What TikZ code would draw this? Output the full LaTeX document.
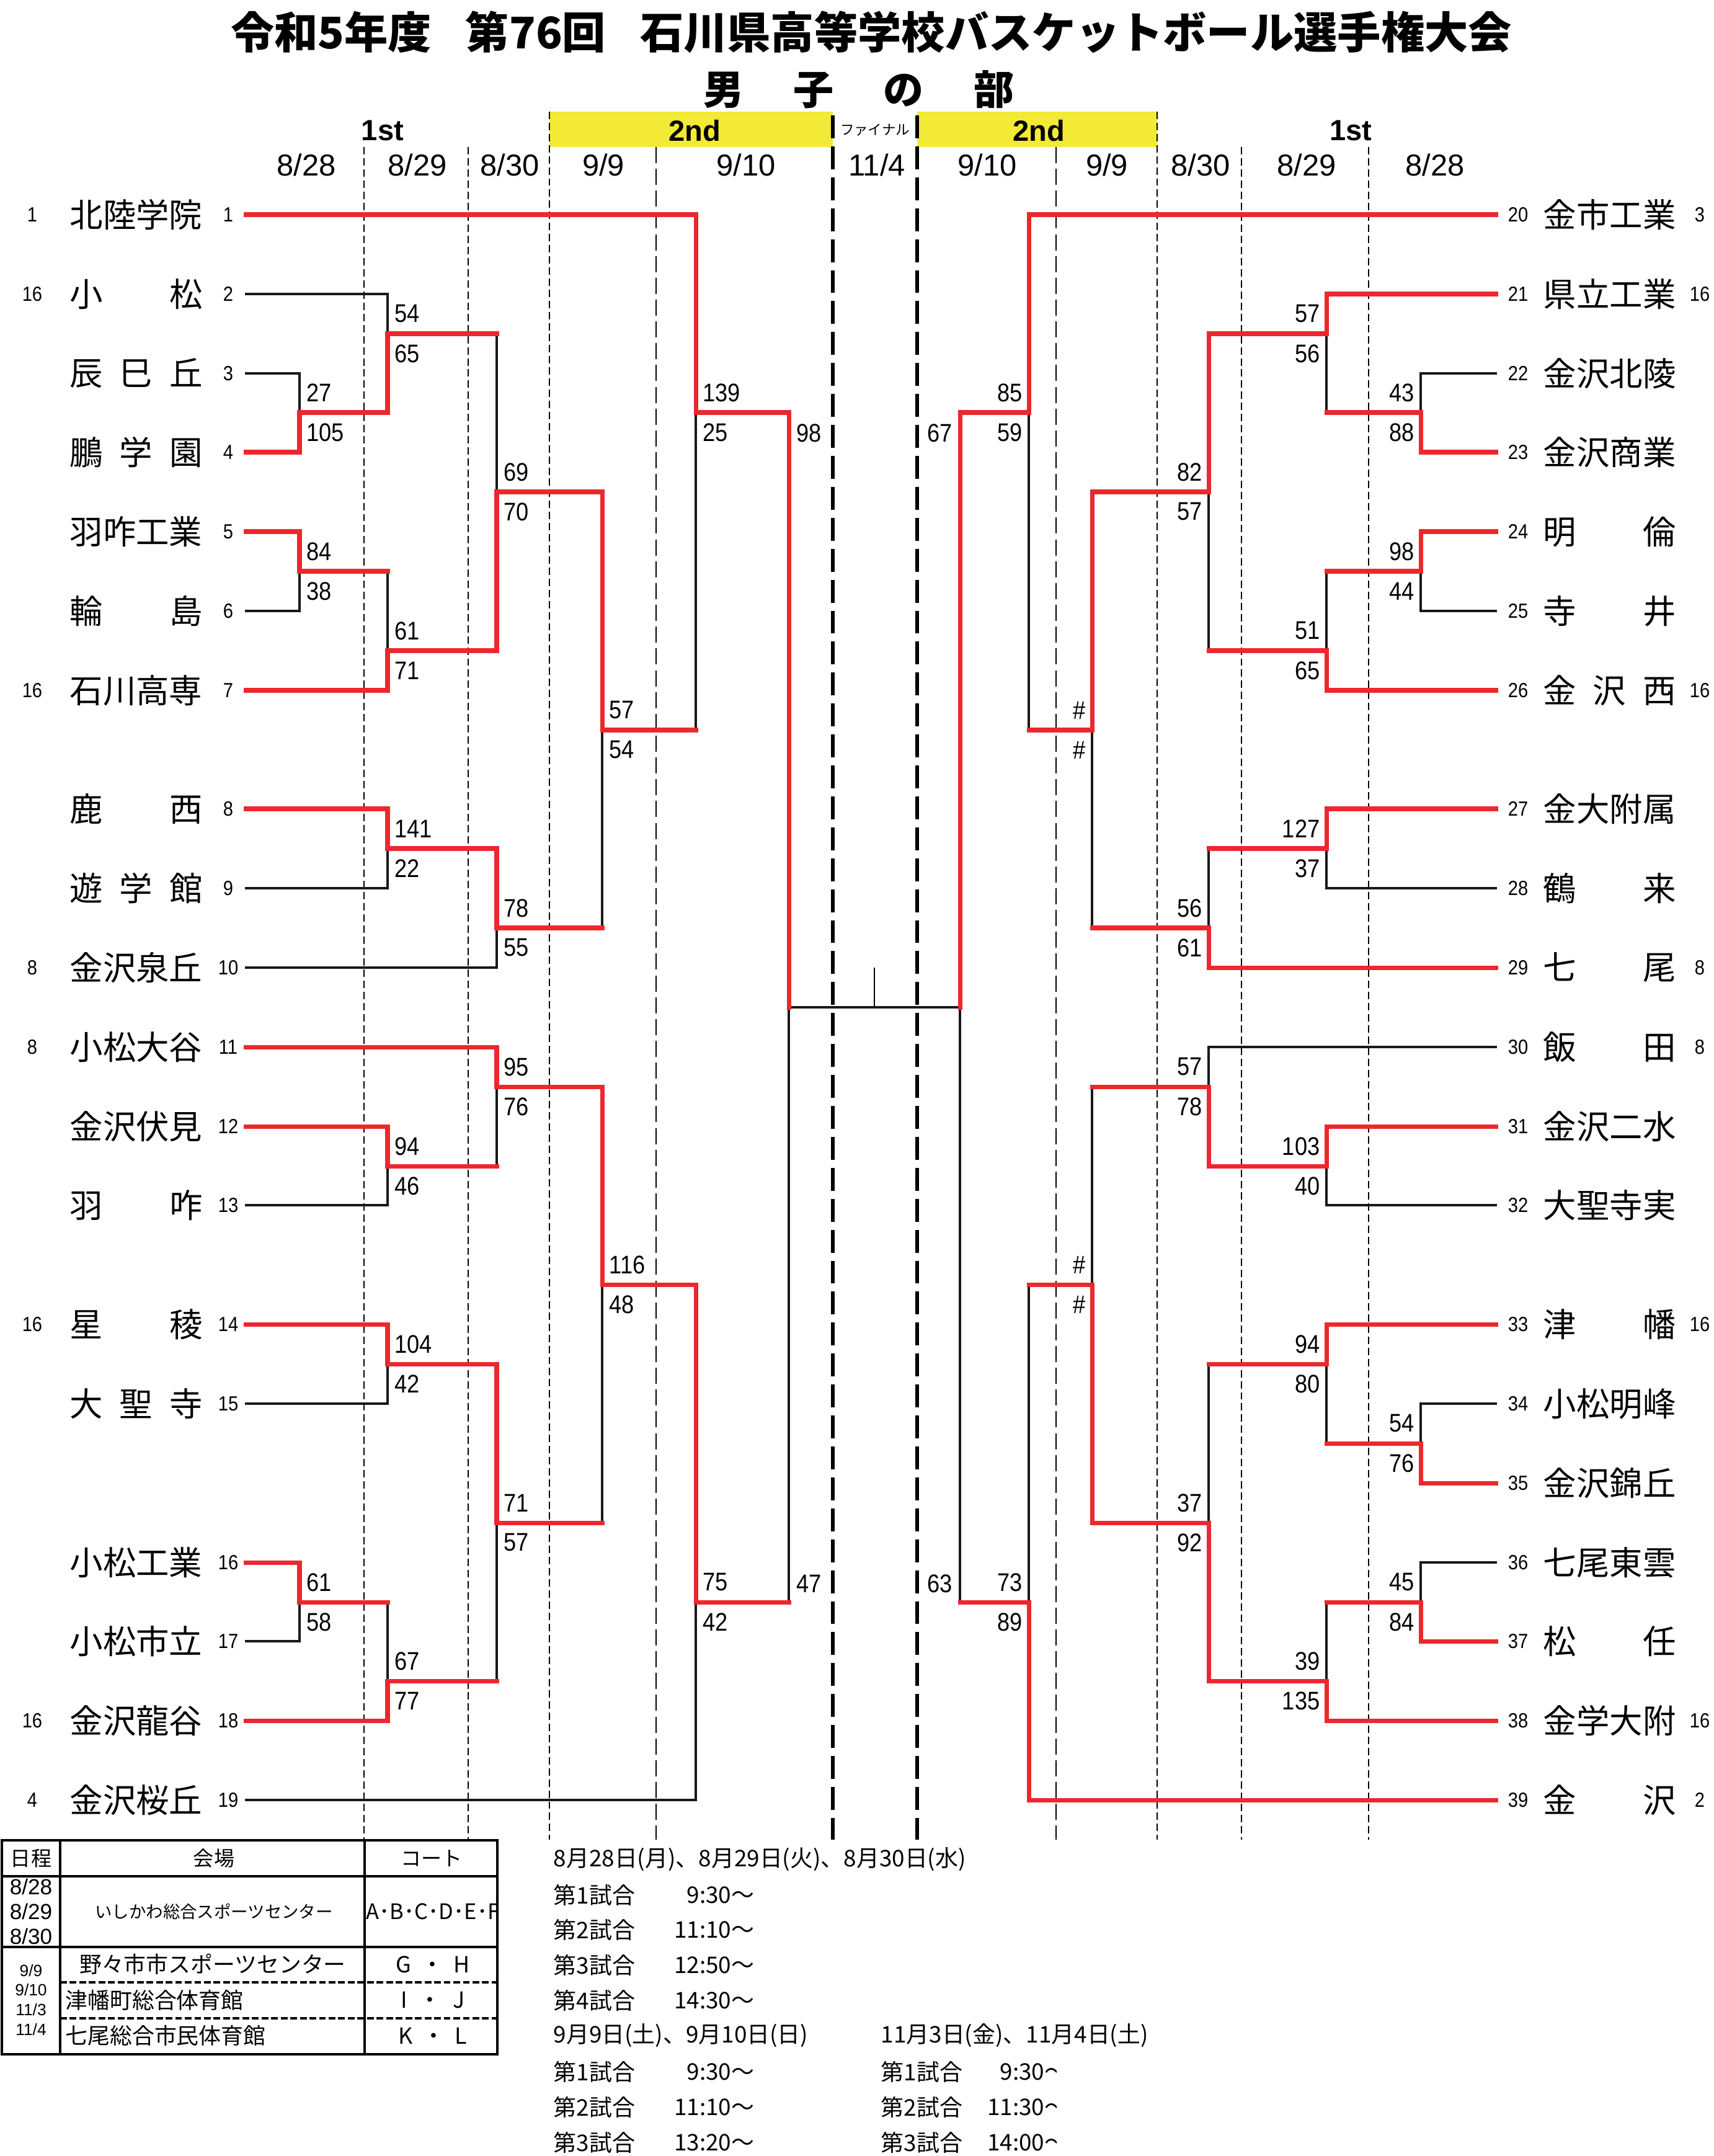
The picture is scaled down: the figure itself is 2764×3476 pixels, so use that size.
\documentclass[tikz,border=0pt]{standalone}
\usepackage{fontspec}
\setmainfont{Noto Sans CJK JP}
\newfontfamily\numf{Liberation Sans}[FakeStretch=0.88]
\newfontfamily\latf{Liberation Sans}
\usetikzlibrary{calc}
\definecolor{wred}{RGB}{236,40,46}
\definecolor{hyel}{RGB}{242,234,52}
\newcommand{\fs}[1]{\fontsize{#1}{#1}\selectfont}
\pgfdeclarelayer{fg}
\pgfsetlayers{main,fg}
\tikzset{
  win/.style={draw=wred, line width=2pt, line cap=rect},
  lose/.style={draw=black!90, line width=1pt, line cap=rect},
  septhin/.style={line width=0.7pt, dash pattern=on 3.4pt off 1.7pt},
  seplong/.style={line width=0.7pt, dash pattern=on 7.4pt off 2.6pt},
  septhick/.style={line width=1.7pt, dash pattern=on 10.5pt off 3.7pt},
  score/.style={inner sep=0pt, font=\numf\fs{11.7pt}},
  tnum/.style={inner sep=0pt, font=\numf\fs{9.4pt}},
  tname/.style={inner sep=0pt, font=\fs{15.2pt}},
  datelbl/.style={inner sep=0pt, font=\latf\fs{13.9pt}},
  roundlbl/.style={inner sep=0pt, font=\latf\bfseries\fs{13.4pt}},
  jtext/.style={inner sep=0pt, font=\fs{10.5pt}},
  tbl/.style={inner sep=0pt, font=\fs{9.4pt}},
}
% match, winner on top: #1 match, #2 top child, #3 bottom child, #4 style of bottom horizontal
\newcommand{\bmT}[4]{%
  \draw[lose] (#1) -- (#3 -| #1);
  \begin{pgfonlayer}{fg}
  \draw[#4] (#3) -- (#3 -| #1);
  \draw[win] (#2) -- (#2 -| #1) -- (#1);
  \end{pgfonlayer}}
% match, winner at bottom: #4 style of top horizontal
\newcommand{\bmB}[4]{%
  \draw[lose] (#1) -- (#2 -| #1);
  \begin{pgfonlayer}{fg}
  \draw[#4] (#2) -- (#2 -| #1);
  \draw[win] (#3) -- (#3 -| #1) -- (#1);
  \end{pgfonlayer}}
\newcommand{\scL}[3]{%
  \node[score,anchor=west] (#1a) at ($(#1)+(11,-32)$) {#2};
  \node[score,anchor=west] (#1b) at ($(#1)+(11,32)$) {#3};}
\newcommand{\scR}[3]{%
  \node[score,anchor=east] (#1a) at ($(#1)+(-10,-32)$) {#2};
  \node[score,anchor=east] (#1b) at ($(#1)+(-10,32)$) {#3};}
\newcommand{\tL}[3]{%
  \node[tnum] (nn#1) at ($(t#1)+(-29,0)$) {#1};
  \node[tname,anchor=west] (nm#1) at ($(t#1)+(-285,0)$) {\makebox[21.4mm][s]{#2}};
  \ifx\relax#3\relax\else\node[tnum] (sd#1) at ($(t#1)+(-345,0)$) {#3};\fi}
\newcommand{\tR}[3]{%
  \node[tnum] (nn#1) at ($(t#1)+(36,0)$) {#1};
  \node[tname,anchor=west] (nm#1) at ($(t#1)+(76,0)$) {\makebox[21.4mm][s]{#2}};
  \ifx\relax#3\relax\else\node[tnum] (sd#1) at ($(t#1)+(329,0)$) {#3};\fi}
\begin{document}
\begin{tikzpicture}[x=0.1mm,y=-0.1mm]
\useasboundingbox (0,0) rectangle (2764,3476);
\fill[white] (0,0) rectangle (2764,3476);
% ---------- header ----------
\node[inner sep=0pt, font=\bfseries\fs{20pt}] (title) at (1405,52)
  {令和5年度\hspace{5.5mm}第76回\hspace{5.5mm}石川県高等学校バスケットボール選手権大会};
\node[inner sep=0pt, font=\bfseries\fs{18.5pt}] (subtitle) at (1385,144)
  {男\hspace{8mm}子\hspace{8mm}の\hspace{8mm}部};
\fill[hyel] (886,180) rectangle (1343,237);
\fill[hyel] (1479,180) rectangle (1866,237);
\node[roundlbl] (r1L) at (617,211) {1st};
\node[roundlbl] (r2L) at (1120,211) {2nd};
\node[inner sep=0pt, font=\fs{6.4pt}] (fin) at (1411,210) {ファイナル};
\node[roundlbl] (r2R) at (1675,211) {2nd};
\node[roundlbl] (r1R) at (2178,211) {1st};
\foreach \x/\d [count=\k] in {494/8\slash 28,673/8\slash 29,822/8\slash 30,973/9\slash 9,1203/9\slash 10,1414/11\slash 4,1592/9\slash 10,1785/9\slash 9,1936/8\slash 30,2107/8\slash 29,2314/8\slash 28}
  \node[datelbl] (dt\k) at (\x,266) {\d};
% ---------- column separators ----------
\foreach \x/\yt in {587/237,755/237,886/180,1866/180,2002/237,2207/237}
  \draw[septhin] (\x,\yt) -- (\x,2966);
\foreach \x in {1058,1703}
  \draw[seplong] (\x,237) -- (\x,2966);
\foreach \x in {1343,1479}
  \draw[septhick] (\x,186) -- (\x,2966);
% ---------- team line ends ----------
\coordinate (t1) at (397,346);  \coordinate (t2) at (397,474);
\coordinate (t3) at (397,602);  \coordinate (t4) at (397,729);
\coordinate (t5) at (397,857);  \coordinate (t6) at (397,985);
\coordinate (t7) at (397,1113); \coordinate (t8) at (397,1304);
\coordinate (t9) at (397,1432); \coordinate (t10) at (397,1560);
\coordinate (t11) at (397,1688); \coordinate (t12) at (397,1816);
\coordinate (t13) at (397,1943); \coordinate (t14) at (397,2135);
\coordinate (t15) at (397,2263); \coordinate (t16) at (397,2519);
\coordinate (t17) at (397,2646); \coordinate (t18) at (397,2774);
\coordinate (t19) at (397,2902);
\coordinate (t20) at (2412,346);  \coordinate (t21) at (2412,474);
\coordinate (t22) at (2412,602);  \coordinate (t23) at (2412,729);
\coordinate (t24) at (2412,857);  \coordinate (t25) at (2412,985);
\coordinate (t26) at (2412,1113); \coordinate (t27) at (2412,1304);
\coordinate (t28) at (2412,1432); \coordinate (t29) at (2412,1560);
\coordinate (t30) at (2412,1688); \coordinate (t31) at (2412,1816);
\coordinate (t32) at (2412,1943); \coordinate (t33) at (2412,2135);
\coordinate (t34) at (2412,2263); \coordinate (t35) at (2412,2391);
\coordinate (t36) at (2412,2519); \coordinate (t37) at (2412,2646);
\coordinate (t38) at (2412,2774); \coordinate (t39) at (2412,2902);
% ---------- match junctions ----------
\coordinate (A) at (483,665);  \coordinate (B) at (625,538);
\coordinate (C) at (483,921);  \coordinate (D) at (625,1049);
\coordinate (E) at (801,793);  \coordinate (F) at (1122,665);
\coordinate (G) at (971,1177); \coordinate (H) at (801,1496);
\coordinate (I) at (625,1368); \coordinate (J) at (625,1880);
\coordinate (K) at (801,1752); \coordinate (L) at (625,2199);
\coordinate (M) at (483,2583); \coordinate (N) at (625,2710);
\coordinate (O) at (801,2455); \coordinate (P) at (971,2071);
\coordinate (Q) at (1122,2583);
\coordinate (SL) at (1272,1624);
\coordinate (a) at (2291,665);  \coordinate (b) at (2139,538);
\coordinate (c) at (2291,921);  \coordinate (d) at (2139,1049);
\coordinate (e) at (1949,793);  \coordinate (f) at (2139,1368);
\coordinate (g) at (1949,1496); \coordinate (h) at (1761,1177);
\coordinate (i) at (1659,665);  \coordinate (j) at (2139,1880);
\coordinate (k) at (1949,1752); \coordinate (l) at (2291,2327);
\coordinate (m) at (2139,2199); \coordinate (n) at (2291,2583);
\coordinate (o) at (2139,2710); \coordinate (p) at (1949,2455);
\coordinate (q) at (1761,2071); \coordinate (r) at (1659,2583);
\coordinate (SR) at (1548,1624);
\coordinate (FT) at (1410,1560);
% ---------- left bracket ----------
\bmB{A}{t3}{t4}{lose}
\bmB{B}{t2}{A}{lose}
\bmT{C}{t5}{t6}{lose}
\bmB{D}{C}{t7}{win}
\bmB{E}{B}{D}{win}
\bmT{I}{t8}{t9}{lose}
\bmT{H}{I}{t10}{lose}
\bmT{G}{E}{H}{win}
\bmT{F}{t1}{G}{win}
\bmT{J}{t12}{t13}{lose}
\bmT{K}{t11}{J}{win}
\bmT{L}{t14}{t15}{lose}
\bmT{M}{t16}{t17}{lose}
\bmB{N}{M}{t18}{win}
\bmT{O}{L}{N}{win}
\bmT{P}{K}{O}{win}
\bmT{Q}{P}{t19}{lose}
\bmT{SL}{F}{Q}{win}
% ---------- right bracket ----------
\bmB{a}{t22}{t23}{lose}
\bmT{b}{t21}{a}{win}
\bmT{c}{t24}{t25}{lose}
\bmB{d}{c}{t26}{win}
\bmT{e}{b}{d}{win}
\bmT{f}{t27}{t28}{lose}
\bmB{g}{f}{t29}{win}
\bmT{h}{e}{g}{win}
\bmT{i}{t20}{h}{win}
\bmT{j}{t31}{t32}{lose}
\bmB{k}{t30}{j}{lose}
\bmB{l}{t34}{t35}{lose}
\bmT{m}{t33}{l}{win}
\bmB{n}{t36}{t37}{lose}
\bmB{o}{n}{t38}{win}
\bmB{p}{m}{o}{win}
\bmB{q}{k}{p}{win}
\bmB{r}{q}{t39}{win}
\bmT{SR}{i}{r}{win}
% ---------- final ----------
\draw[lose] (SL) -- (SR);
\draw[line width=0.8pt] (FT) -- (FT |- SL);
% ---------- scores ----------
\scL{A}{27}{105} \scL{B}{54}{65} \scL{C}{84}{38} \scL{D}{61}{71}
\scL{E}{69}{70} \scL{F}{139}{25} \scL{G}{57}{54} \scL{H}{78}{55}
\scL{I}{141}{22} \scL{J}{94}{46} \scL{K}{95}{76} \scL{L}{104}{42}
\scL{M}{61}{58} \scL{N}{67}{77} \scL{O}{71}{57} \scL{P}{116}{48}
\scL{Q}{75}{42}
\scR{a}{43}{88} \scR{b}{57}{56} \scR{c}{98}{44} \scR{d}{51}{65}
\scR{e}{82}{57} \scR{f}{127}{37} \scR{g}{56}{61} \scR{h}{\#}{\#}
\scR{i}{85}{59} \scR{j}{103}{40} \scR{k}{57}{78} \scR{l}{54}{76}
\scR{m}{94}{80} \scR{n}{45}{84} \scR{o}{39}{135} \scR{p}{37}{92}
\scR{q}{\#}{\#} \scR{r}{73}{89}
\node[score,anchor=west] (SLa) at ($(F -| SL)+(12,33)$) {98};
\node[score,anchor=west] (SLb) at ($(Q -| SL)+(12,-30)$) {47};
\node[score,anchor=east] (SRa) at ($(i -| SR)+(-12,33)$) {67};
\node[score,anchor=east] (SRb) at ($(r -| SR)+(-12,-30)$) {63};
% ---------- teams ----------
\tL{1}{北陸学院}{1}
\tL{2}{小\hfill 松}{16}
\tL{3}{辰\hfill 巳\hfill 丘}{}
\tL{4}{鵬\hfill 学\hfill 園}{}
\tL{5}{羽咋工業}{}
\tL{6}{輪\hfill 島}{}
\tL{7}{石川高専}{16}
\tL{8}{鹿\hfill 西}{}
\tL{9}{遊\hfill 学\hfill 館}{}
\tL{10}{金沢泉丘}{8}
\tL{11}{小松大谷}{8}
\tL{12}{金沢伏見}{}
\tL{13}{羽\hfill 咋}{}
\tL{14}{星\hfill 稜}{16}
\tL{15}{大\hfill 聖\hfill 寺}{}
\tL{16}{小松工業}{}
\tL{17}{小松市立}{}
\tL{18}{金沢龍谷}{16}
\tL{19}{金沢桜丘}{4}
\tR{20}{金市工業}{3}
\tR{21}{県立工業}{16}
\tR{22}{金沢北陵}{}
\tR{23}{金沢商業}{}
\tR{24}{明\hfill 倫}{}
\tR{25}{寺\hfill 井}{}
\tR{26}{金\hfill 沢\hfill 西}{16}
\tR{27}{金大附属}{}
\tR{28}{鶴\hfill 来}{}
\tR{29}{七\hfill 尾}{8}
\tR{30}{飯\hfill 田}{8}
\tR{31}{金沢二水}{}
\tR{32}{大聖寺実}{}
\tR{33}{津\hfill 幡}{16}
\tR{34}{小松明峰}{}
\tR{35}{金沢錦丘}{}
\tR{36}{七尾東雲}{}
\tR{37}{松\hfill 任}{}
\tR{38}{金学大附}{16}
\tR{39}{金\hfill 沢}{2}
% ---------- venue table ----------
\draw[line width=1pt] (3,2967) rectangle (802,3312);
\draw[line width=1pt] (97,2967) -- (97,3312);
\draw[line width=1pt] (588,2967) -- (588,3312);
\draw[line width=1pt] (3,3025) -- (802,3025);
\draw[line width=1pt] (3,3139) -- (802,3139);
\draw[line width=0.9pt, dash pattern=on 3.1pt off 1.3pt] (97,3196) -- (802,3196);
\draw[line width=0.9pt, dash pattern=on 3.1pt off 1.3pt] (97,3254) -- (802,3254);
\node[tbl] (h1) at (50,2996) {日程};
\node[tbl] (h2) at (345,2996) {会場};
\node[tbl] (h3) at (696,2996) {コート};
\node[inner sep=0pt, font=\latf\fs{10pt}] (d1) at (50,3042) {8/28};
\node[inner sep=0pt, font=\latf\fs{10pt}] (d2) at (50,3082) {8/29};
\node[inner sep=0pt, font=\latf\fs{10pt}] (d3) at (50,3122) {8/30};
\node[inner sep=0pt, font=\fs{7.8pt}] (v1) at (345,3082) {いしかわ総合スポーツセンター};
\begin{scope}
  \clip (589,3030) rectangle (800,3135);
  \node[inner sep=0pt, anchor=west, font=\fs{9.8pt}] (c1) at (590,3082) {A･B･C･D･E･F};
\end{scope}
\node[inner sep=0pt, font=\latf\fs{7.5pt}] (d4) at (50,3177) {9/9};
\node[inner sep=0pt, font=\latf\fs{7.5pt}] (d5) at (50,3208) {9/10};
\node[inner sep=0pt, font=\latf\fs{7.5pt}] (d6) at (50,3240) {11/3};
\node[inner sep=0pt, font=\latf\fs{7.5pt}] (d7) at (50,3272) {11/4};
\node[inner sep=0pt, font=\fs{10.2pt}] (v2) at (343,3167) {野々市市スポーツセンター};
\node[inner sep=0pt, anchor=west, font=\fs{10.2pt}] (v3) at (105,3225) {津幡町総合体育館};
\node[inner sep=0pt, anchor=west, font=\fs{10.2pt}] (v4) at (105,3282) {七尾総合市民体育館};
\node[inner sep=0pt, font=\fs{10.2pt}] (c2) at (698,3167) {G\hspace{1.6mm}・\hspace{1.6mm}H};
\node[inner sep=0pt, font=\fs{10.2pt}] (c3) at (698,3225) {I\hspace{1.9mm}・\hspace{1.9mm}J};
\node[inner sep=0pt, font=\fs{10.2pt}] (c4) at (698,3282) {K\hspace{1.6mm}・\hspace{1.6mm}L};
% ---------- schedule ----------
\node[jtext,anchor=west] (s1) at (892,2998) {8月28日(月)、8月29日(火)、8月30日(水)};
\node[jtext,anchor=west] (s2) at (892,3055) {第1試合};
\node[jtext,anchor=east] (s2t) at (1217,3055) {9:30～};
\node[jtext,anchor=west] (s3) at (892,3111) {第2試合};
\node[jtext,anchor=east] (s3t) at (1217,3111) {11:10～};
\node[jtext,anchor=west] (s4) at (892,3168) {第3試合};
\node[jtext,anchor=east] (s4t) at (1217,3168) {12:50～};
\node[jtext,anchor=west] (s5) at (892,3225) {第4試合};
\node[jtext,anchor=east] (s5t) at (1217,3225) {14:30～};
\node[jtext,anchor=west] (s6) at (892,3282) {9月9日(土)、9月10日(日)};
\node[jtext,anchor=west] (s7) at (892,3340) {第1試合};
\node[jtext,anchor=east] (s7t) at (1217,3340) {9:30～};
\node[jtext,anchor=west] (s8) at (892,3397) {第2試合};
\node[jtext,anchor=east] (s8t) at (1217,3397) {11:10～};
\node[jtext,anchor=west] (s9) at (892,3454) {第3試合};
\node[jtext,anchor=east] (s9t) at (1217,3454) {13:20～};
\node[jtext,anchor=west] (u1) at (1420,3282) {11月3日(金)、11月4日(土)};
\node[jtext,anchor=west] (u2) at (1420,3340) {第1試合};
\node[jtext,anchor=west] (u3) at (1420,3397) {第2試合};
\node[jtext,anchor=west] (u4) at (1420,3454) {第3試合};
\begin{scope}
  \clip (1550,3300) rectangle (1703,3476);
  \node[jtext,anchor=east] (u2t) at (1722,3340) {9:30～};
  \node[jtext,anchor=east] (u3t) at (1722,3397) {11:30～};
  \node[jtext,anchor=east] (u4t) at (1722,3454) {14:00～};
\end{scope}
\end{tikzpicture}
\end{document}
